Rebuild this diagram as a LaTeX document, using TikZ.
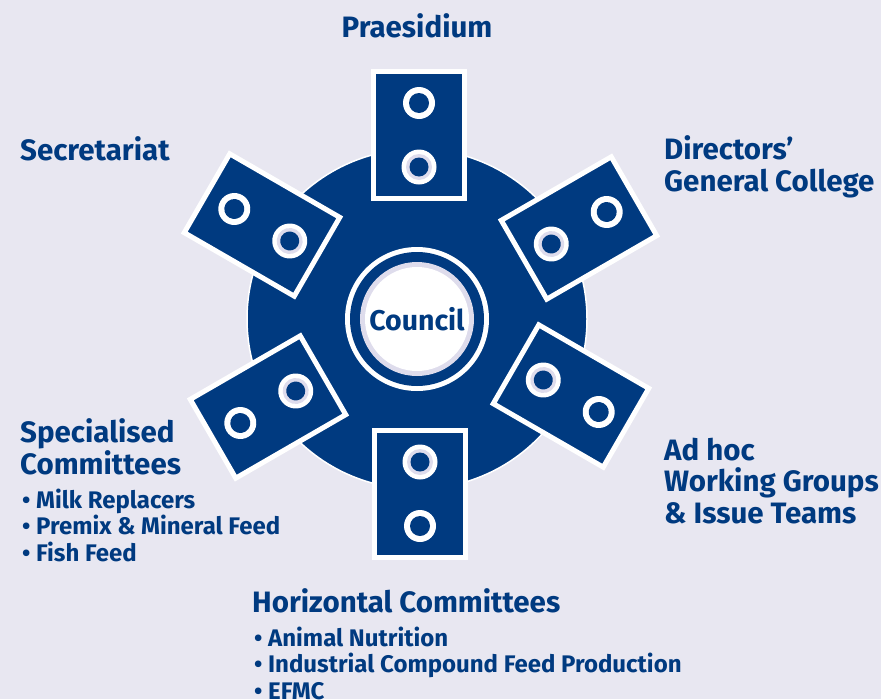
\documentclass[tikz,border=0pt]{standalone}
\usepackage{fontspec}
\setsansfont{Fira Sans}
\renewcommand{\familydefault}{\sfdefault}
\definecolor{efblue}{RGB}{0,58,128}
\definecolor{eflav}{RGB}{232,231,241}
\definecolor{efring}{RGB}{222,220,236}
\tikzset{
 grouphead/.style={anchor=base west, inner sep=0, text=efblue, align=left,
   font=\fontsize{29.5}{31.5}\selectfont\bfseries},
 groupitem/.style={anchor=base west, inner sep=0, text=efblue, align=left,
   font=\fontsize{24}{26.3}\selectfont\bfseries},
 panel/.style={draw=white, line width=5, fill=efblue}
}
\begin{document}
\begin{tikzpicture}[x=1pt, y=-1pt]
\fill[eflav] (0,0) rectangle (881,699);
\useasboundingbox (0,0) rectangle (881,699);
% big disc
\draw[white, line width=1.5, fill=efblue] (417,319) circle (170);
% six panels round the disc
\foreach \px/\py/\ang in {419/135/90, 579/228/30, 571/396/-30, 420/494/-90, 268/407/210, 262/225/150} {
 \begin{scope}[shift={(\px,\py)}, rotate=\ang]
  \draw[panel] (-63.5,-45.5) rectangle (63.5,45.5);
  \fill[white] (32,0) circle (16);
  \fill[efblue] (32,0) circle (10);
  \fill[white] (-32,0) circle (17.5);
  \fill[efring] (-32,0) circle (13);
  \fill[efblue] (-32,0) circle (9.5);
 \end{scope}
}
% centre
\fill[white] (417,319) circle (72);
\fill[efblue] (417,319) circle (67);
\fill[efring] (417,319) circle (57);
\fill[white] (417,319) circle (52);
\node[text=efblue, font=\fontsize{28.5}{30}\selectfont\bfseries] (council) at (417,319) {Council};
% texts (base = last line)
\node[grouphead, anchor=base] (praesidium) at (417,37) {Praesidium};
\node[grouphead] (secretariat) at (20,160) {Secretariat};
\node[grouphead] (directors) at (664,191) {Directors'\\General College};
\node[grouphead] (adhoc) at (664,523) {Ad hoc\\Working Groups\\\& Issue Teams};
\node[grouphead] (specialised) at (20,474) {Specialised\\Committees};
\node[groupitem] (specitems) at (22,561) {\textbullet\ Milk Replacers\\\textbullet\ Premix \& Mineral Feed\\\textbullet\ Fish Feed};
\node[grouphead] (horizontal) at (252,612) {Horizontal Committees};
\node[groupitem] (horitems) at (254,699) {\textbullet\ Animal Nutrition\\\textbullet\ Industrial Compound Feed Production\\\textbullet\ EFMC};
\end{tikzpicture}
\end{document}
